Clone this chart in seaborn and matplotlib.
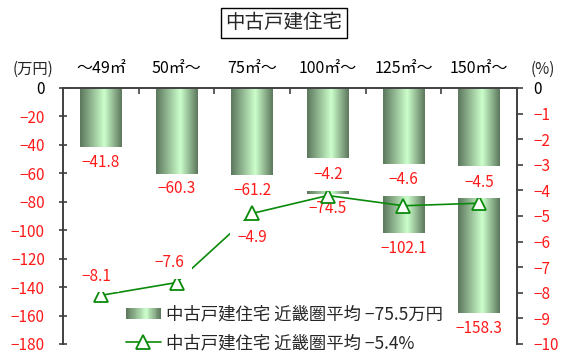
import numpy as np
import pandas as pd
import matplotlib
matplotlib.use("Agg")
import matplotlib.pyplot as plt
import seaborn as sns
from matplotlib.colors import LinearSegmentedColormap
from matplotlib.legend_handler import HandlerBase
from matplotlib.patches import Rectangle
from matplotlib.lines import Line2D
import matplotlib.transforms as mtransforms

# ---- data -------------------------------------------------------------
categories = ["～49㎡", "50㎡～", "75㎡～", "100㎡～", "125㎡～", "150㎡～"]
price_change = [-41.8, -60.3, -61.2, -74.5, -102.1, -158.3]   # 万円
rate_change = [-8.1, -7.6, -4.9, -4.2, -4.6, -4.5]             # %
left_ticks = [0, -20, -40, -60, -80, -100, -120, -140, -160, -180]
right_ticks = [0, -1, -2, -3, -4, -5, -6, -7, -8, -9, -10]
title = "中古戸建住宅"
bar_legend = "中古戸建住宅 近畿圏平均 −75.5万円"
line_legend = "中古戸建住宅 近畿圏平均 −5.4%"

# label offsets for the line values (pixels)
rate_label_offsets = [(-4, 19), (-7, 20), (0, -24), (0, 21), (0, 26), (0, 21)]

# ---- style ------------------------------------------------------------
sns.set_style("white")
plt.rcParams["font.family"] = ["Noto Sans CJK JP", "DejaVu Sans"]
plt.rcParams["axes.unicode_minus"] = True

RED = "#ff1a1a"
GREEN = "#0a8a0a"
SPINE = "#404040"
NUM_SIZE = 11
cmap = LinearSegmentedColormap.from_list(
    "bar_grad", [(0.0, "#5c765c"), (0.58, "#ccffcc"), (1.0, "#5c765c")])


def fmt(v):
    return f"{v:g}".replace("-", "−")


df = pd.DataFrame({"cat": categories, "price": price_change, "rate": rate_change})

fig = plt.figure(figsize=(5.66, 3.53), dpi=100)
ax = fig.add_axes([63 / 566, 1 - 344 / 353, (517 - 63) / 566, (344 - 88) / 353])

sns.barplot(data=df, x="cat", y="price", ax=ax, width=0.555,
            color="#9fcf9f", saturation=1, errorbar=None)

# gradient fill clipped to each bar
grad = np.linspace(0, 1, 256)[np.newaxis, :]
for patch in list(ax.patches):
    x0, y0 = patch.get_x(), patch.get_y()
    w, h = patch.get_width(), patch.get_height()
    im = ax.imshow(grad, extent=[x0, x0 + w, y0 + h, y0], aspect="auto",
                   cmap=cmap, interpolation="bicubic", zorder=1)
    im.set_clip_path(patch)
    patch.set_facecolor("none")
    patch.set_edgecolor("none")

ax.set_xlim(-0.5, len(categories) - 0.5)
ax.set_ylim(-180, 0)
ax.set_xlabel("")
ax.set_ylabel("")

# bar value labels
for i, v in enumerate(price_change):
    ax.annotate(fmt(v), (i, v), xytext=(0, -15), textcoords="offset pixels",
                ha="center", va="center", color=RED, fontsize=NUM_SIZE, zorder=5)

# left axis
ax.set_yticks(left_ticks)
ax.set_yticklabels([fmt(t) for t in left_ticks], fontsize=NUM_SIZE)
for t, lab in zip(left_ticks, ax.get_yticklabels()):
    lab.set_color("black" if t == 0 else RED)
ax.tick_params(axis="y", direction="inout", length=6, width=1.2,
               color=SPINE, pad=10, left=True)

# top axis: boundary ticks only
ax.xaxis.set_ticks_position("top")
ax.set_xticks(np.arange(0.5, len(categories) - 0.5, 1))
ax.set_xticklabels([])
ax.tick_params(axis="x", direction="in", length=4, width=1.2, color=SPINE,
               top=True, bottom=False)

for side in ["bottom", "right"]:
    ax.spines[side].set_visible(False)
for side in ["top", "left"]:
    ax.spines[side].set_color(SPINE)
    ax.spines[side].set_linewidth(1.4)

# category names above the plot
trans = mtransforms.blended_transform_factory(ax.transData, ax.transAxes)
for i, c in enumerate(categories):
    ax.text(i, 1.075, c, transform=trans, ha="center", va="center",
            fontsize=11.5, color="black")

# ---- rate line on the right axis -------------------------------------
ax2 = ax.twinx()
sns.lineplot(x=np.arange(len(rate_change)), y=rate_change, ax=ax2,
             color=GREEN, lw=1.2, marker="^", markersize=10,
             markerfacecolor="white", markeredgecolor=GREEN,
             markeredgewidth=1.3, zorder=3)
ax2.set_ylim(-10, 0)
ax2.set_xlim(-0.5, len(categories) - 0.5)
ax2.set_yticks(right_ticks)
ax2.set_yticklabels([fmt(t) for t in right_ticks], fontsize=NUM_SIZE)
for t, lab in zip(right_ticks, ax2.get_yticklabels()):
    lab.set_color("black" if t == 0 else RED)
ax2.tick_params(axis="y", direction="out", length=4, width=1.2,
                color=SPINE, pad=8, right=True)
ax2.set_ylabel("")
for side in ["top", "bottom", "left"]:
    ax2.spines[side].set_visible(False)
ax2.spines["right"].set_color(SPINE)
ax2.spines["right"].set_linewidth(1.4)

for i, (v, off) in enumerate(zip(rate_change, rate_label_offsets)):
    ax2.annotate(fmt(v), (i, v), xytext=off, textcoords="offset pixels",
                 ha="center", va="center", color=RED, fontsize=NUM_SIZE, zorder=6,
                 bbox=dict(boxstyle="square,pad=0.5", fc="white", ec="none"))

# ---- unit labels and title -------------------------------------------
fig.text(33 / 566, 1 - 69 / 353, "(万円)", ha="center", va="center", fontsize=11)
fig.text(543 / 566, 1 - 69 / 353, "(%)", ha="center", va="center", fontsize=11)
fig.text(284 / 566, 1 - 23 / 353, title, ha="center", va="center", fontsize=14,
         bbox=dict(boxstyle="square,pad=0.25", fc="white", ec="black", lw=1.0))


# ---- legend ------------------------------------------------------------
class GradientHandler(HandlerBase):
    def create_artists(self, legend, orig_handle, xdescent, ydescent,
                       width, height, fontsize, trans):
        n = 40
        hh = height * 0.85
        y0 = -ydescent + (height - hh) / 2
        arts = []
        for k in range(n):
            r = Rectangle((-xdescent + width * k / n, y0), width / n + 0.3, hh,
                          facecolor=cmap((k + 0.5) / n), edgecolor="none",
                          transform=trans)
            arts.append(r)
        return arts


bar_handle = Rectangle((0, 0), 1, 1)
line_handle = Line2D([], [], color=GREEN, lw=1.2, marker="^", markersize=10,
                     markerfacecolor="white", markeredgecolor=GREEN,
                     markeredgewidth=1.3)
fig.legend([bar_handle, line_handle], [bar_legend, line_legend],
           handler_map={Rectangle: GradientHandler()},
           loc="center left", bbox_to_anchor=(126 / 566, 1 - 329 / 353),
           frameon=False, fontsize=12.5, handlelength=2.0, handletextpad=0.3,
           labelspacing=0.62, borderpad=0, borderaxespad=0, numpoints=1)

fig.savefig("out.png", dpi=100)
